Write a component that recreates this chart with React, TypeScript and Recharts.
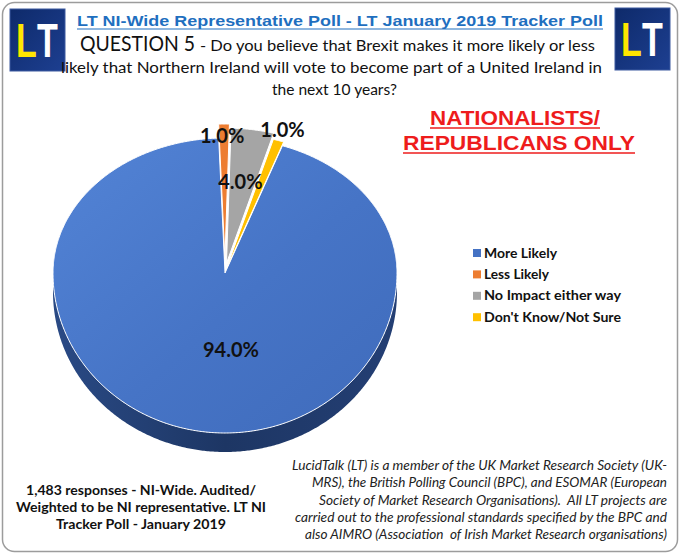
import React from "react";
import { PieChart, Pie, Cell, Legend } from "recharts";

// poll figures (Nationalists/Republicans only)
const categories = ["More Likely", "Less Likely", "No Impact either way", "Don't Know/Not Sure"];
const shares = [94.0, 1.0, 4.0, 1.0];

const sliceColors = ["#4472c4", "#ed7d31", "#a5a5a5", "#ffc000"];
const sideColors = ["url(#blueSide)", "#b35a1f", "#7c7c7c", "#c79400"];
const explodeBy = [0, 14, 10, 4];
const labelRadius = [0.5, 1.0, 0.667, 1.1];
const labelNudgeX = [19, -2, -2, 0];
const legendTextWidths = [73, 65, 137, 137];

const TOP_RATIO = 135 / 172;
const BOTTOM_RATIO = 160 / 172;
const DEPTH = 19;

const data = categories.map((name, i) => ({ name, value: shares[i] }));

const CALIBRI = "Lato, 'Open Sans', sans-serif";
const ARIAL = "'Liberation Sans', Arial, sans-serif";

function ellipsePoint(cx: number, cy: number, r: number, angle: number, k = 1) {
    const rad = (angle * Math.PI) / 180;
    const s = Math.sin(rad);
    const ry = s >= 0 ? r * TOP_RATIO : r * BOTTOM_RATIO;
    return [cx + k * r * Math.cos(rad), cy - k * ry * s];
}

function sampleAngles(a0: number, a1: number) {
    const n = Math.max(2, Math.ceil(Math.abs(a1 - a0) / 0.5));
    const out: number[] = [];
    for (let i = 0; i <= n; i++) out.push(a0 + ((a1 - a0) * i) / n);
    return out;
}

function renderSlice(props: any) {
    const { cx, cy, outerRadius, startAngle, endAngle, fill } = props;
    const name = props.name ?? props.payload?.name;
    const i = Math.max(0, categories.indexOf(name));
    const angles = sampleAngles(startAngle, endAngle);

    const rim = angles.map((a) => ellipsePoint(cx, cy, outerRadius, a));
    const top =
        `M${cx},${cy} ` + rim.map((p) => `L${p[0].toFixed(2)},${p[1].toFixed(2)}`).join(" ") + " Z";

    // side wall for the part of the rim that faces the viewer
    const runs: number[][][] = [];
    let run: number[][] = [];
    angles.forEach((a, k) => {
        const norm = ((a % 360) + 360) % 360;
        if (norm >= 180 && norm <= 360) run.push(rim[k]);
        else if (run.length) {
            runs.push(run);
            run = [];
        }
    });
    if (run.length) runs.push(run);
    const sides = runs
        .filter((r) => r.length > 1)
        .map((r) => {
            const down = [...r].reverse().map((p) => [p[0], p[1] + DEPTH]);
            return "M" + [...r, ...down].map((p) => `${p[0].toFixed(2)},${p[1].toFixed(2)}`).join(" L") + " Z";
        });

    const mid = (((startAngle + endAngle) / 2) * Math.PI) / 180;
    const dx = explodeBy[i] * Math.cos(mid);
    const dy = -explodeBy[i] * Math.sin(mid);

    return (
        <g transform={`translate(${dx.toFixed(2)},${dy.toFixed(2)})`}>
            {sides.map((d, k) => (
                <path key={k} d={d} fill={sideColors[i]} stroke="none" />
            ))}
            <path d={top} fill={i === 0 ? "url(#blueTop)" : fill} stroke="#ffffff" strokeWidth={1} />
        </g>
    );
}

function renderLabel(p: any) {
    const i = typeof p.index === "number" ? p.index : categories.indexOf(p.name);
    const [x, y] = ellipsePoint(p.cx, p.cy, p.outerRadius, p.midAngle, labelRadius[i]);
    return (
        <text
            x={x + labelNudgeX[i]}
            y={y - 3}
            textAnchor="middle"
            dominantBaseline="central"
            fontFamily={CALIBRI}
            fontWeight={700}
            fontSize={20}
            fill="#111111"
        >
            {shares[i].toFixed(1)}%
        </text>
    );
}

function renderLegend(props: any) {
    const payload = props.payload || [];
    const ordered = categories
        .map((c) => payload.find((e: any) => e.value === c))
        .filter(Boolean);
    return (
        <svg width={190} height={90}>
            {ordered.map((entry: any, i: number) => {
                const c = 13 + i * 21.4;
                return (
                    <g key={entry.value}>
                        <rect x={3} y={c - 4} width={8} height={8} fill={entry.color || sliceColors[i]} />
                        <text
                            x={14}
                            y={c + 4.5}
                            fontFamily={CALIBRI}
                            fontWeight={700}
                            fontSize={13}
                            fill="#111111"
                            textLength={legendTextWidths[i]}
                            lengthAdjust="spacingAndGlyphs"
                        >
                            {entry.value}
                        </text>
                    </g>
                );
            })}
        </svg>
    );
}

function Logo({ x, y }: { x: number; y: number }) {
    // letters drawn narrow and stretched tall, like the LT badge
    return (
        <g transform={`translate(${x},${y})`}>
            <rect width={55} height={62} fill="url(#logoBg)" stroke="#3c5aa0" strokeWidth={1} />
            <g transform="translate(6,48) scale(1,1.42)">
                <text x={0} y={0} fontFamily={ARIAL} fontWeight={700} fontSize={34} fill="#ffe600">
                    L
                </text>
                <text x={21} y={0} fontFamily={ARIAL} fontWeight={700} fontSize={34} fill="#ffffff">
                    T
                </text>
            </g>
        </g>
    );
}

function Backdrop() {
    const footLeft = [
        "1,483 responses - NI-Wide. Audited/",
        "Weighted to be NI representative. LT NI",
        "Tracker Poll - January 2019",
    ];
    const footLeftW = [230, 250, 170];
    const footRight = [
        "LucidTalk (LT) is a member of the UK Market Research Society (UK-",
        "MRS), the British Polling Council (BPC), and ESOMAR (European",
        "Society of Market Research Organisations).  All LT projects are",
        "carried out to the professional standards specified by the BPC and",
        "also AIMRO (Association  of Irish Market Research organisations)",
    ];
    const footRightW = [375, 355, 348, 372, 362];
    return (
        <svg width={680} height={555} style={{ position: "absolute", left: 0, top: 0 }}>
            <defs>
                <linearGradient id="blueTop" x1="0" y1="0" x2="1" y2="1">
                    <stop offset="0%" stopColor="#5384d6" />
                    <stop offset="55%" stopColor="#4674c6" />
                    <stop offset="100%" stopColor="#3f6bbb" />
                </linearGradient>
                <linearGradient id="blueSide" x1="0" y1="0" x2="1" y2="0">
                    <stop offset="0%" stopColor="#2a4a85" />
                    <stop offset="50%" stopColor="#1d3664" />
                    <stop offset="100%" stopColor="#243f74" />
                </linearGradient>
                <linearGradient id="logoBg" x1="0" y1="0" x2="1" y2="1">
                    <stop offset="0%" stopColor="#0e2a6a" />
                    <stop offset="100%" stopColor="#1d3f91" />
                </linearGradient>
            </defs>
            <rect x={2.5} y={2.5} width={675} height={549} rx={12} fill="#ffffff" stroke="#9c9c9c" strokeWidth={1.5} />
            <Logo x={10} y={9} />
            <Logo x={615} y={8} />

            <text
                x={77}
                y={26}
                fontFamily={ARIAL}
                fontWeight={700}
                fontSize={15}
                fill="#1f6fbf"
                textLength={526}
                lengthAdjust="spacingAndGlyphs"
            >
                LT NI-Wide Representative Poll - LT January 2019 Tracker Poll
            </text>
            <line x1={77} x2={603} y1={29} y2={29} stroke="#1f6fbf" strokeWidth={1.2} />

            <text x={80} y={51} fontFamily={CALIBRI} fontSize={22} fill="#111111" textLength={115} lengthAdjust="spacingAndGlyphs">
                QUESTION 5
            </text>
            <text x={200} y={51} fontFamily={CALIBRI} fontSize={16} fill="#111111" textLength={395} lengthAdjust="spacingAndGlyphs">
                - Do you believe that Brexit makes it more likely or less
            </text>
            <text x={61} y={73} fontFamily={CALIBRI} fontSize={16} fill="#111111" textLength={541} lengthAdjust="spacingAndGlyphs">
                likely that Northern Ireland will vote to become part of a United Ireland in
            </text>
            <text x={272} y={95} fontFamily={CALIBRI} fontSize={16} fill="#111111" textLength={125} lengthAdjust="spacingAndGlyphs">
                the next 10 years?
            </text>

            <text x={430} y={125} fontFamily={ARIAL} fontWeight={700} fontSize={21} fill="#ee1c1c" textLength={170} lengthAdjust="spacingAndGlyphs">
                NATIONALISTS/
            </text>
            <line x1={430} x2={600} y1={128} y2={128} stroke="#ee1c1c" strokeWidth={1.6} />
            <text x={403} y={150} fontFamily={ARIAL} fontWeight={700} fontSize={21} fill="#ee1c1c" textLength={232} lengthAdjust="spacingAndGlyphs">
                REPUBLICANS ONLY
            </text>
            <line x1={403} x2={635} y1={153} y2={153} stroke="#ee1c1c" strokeWidth={1.6} />

            {footLeft.map((t, i) => (
                <text
                    key={t}
                    x={141 - footLeftW[i] / 2}
                    y={495 + i * 17}
                    fontFamily={CALIBRI}
                    fontWeight={700}
                    fontSize={14}
                    fill="#111111"
                    textLength={footLeftW[i]}
                    lengthAdjust="spacingAndGlyphs"
                >
                    {t}
                </text>
            ))}
            {footRight.map((t, i) => (
                <text
                    key={t}
                    x={667 - footRightW[i]}
                    y={470 + i * 17.3}
                    fontFamily={CALIBRI}
                    fontStyle="italic"
                    fontSize={13.5}
                    fill="#222222"
                    textLength={footRightW[i]}
                    lengthAdjust="spacingAndGlyphs"
                    style={{ whiteSpace: "pre" }}
                >
                    {t}
                </text>
            ))}
        </svg>
    );
}

export default function App() {
    return (
        <div style={{ position: "absolute", left: 0, top: 0, width: 680, height: 555, background: "#ffffff" }}>
            <Backdrop />
            <div style={{ position: "absolute", left: 0, top: 0 }}>
                <PieChart width={680} height={555}>
                    <Pie
                        data={data}
                        dataKey="value"
                        nameKey="name"
                        cx={220}
                        cy={268}
                        outerRadius={172}
                        startAngle={70.5}
                        endAngle={-289.5}
                        stroke="#ffffff"
                        strokeWidth={1}
                        shape={renderSlice}
                        label={renderLabel}
                        labelLine={false}
                        isAnimationActive={false}
                    >
                        {data.map((d, i) => (
                            <Cell key={d.name} fill={sliceColors[i]} />
                        ))}
                    </Pie>
                    <Legend
                        content={renderLegend}
                        wrapperStyle={{ position: "absolute", left: 470, top: 240, width: 190, bottom: "auto" }}
                    />
                </PieChart>
            </div>
        </div>
    );
}
